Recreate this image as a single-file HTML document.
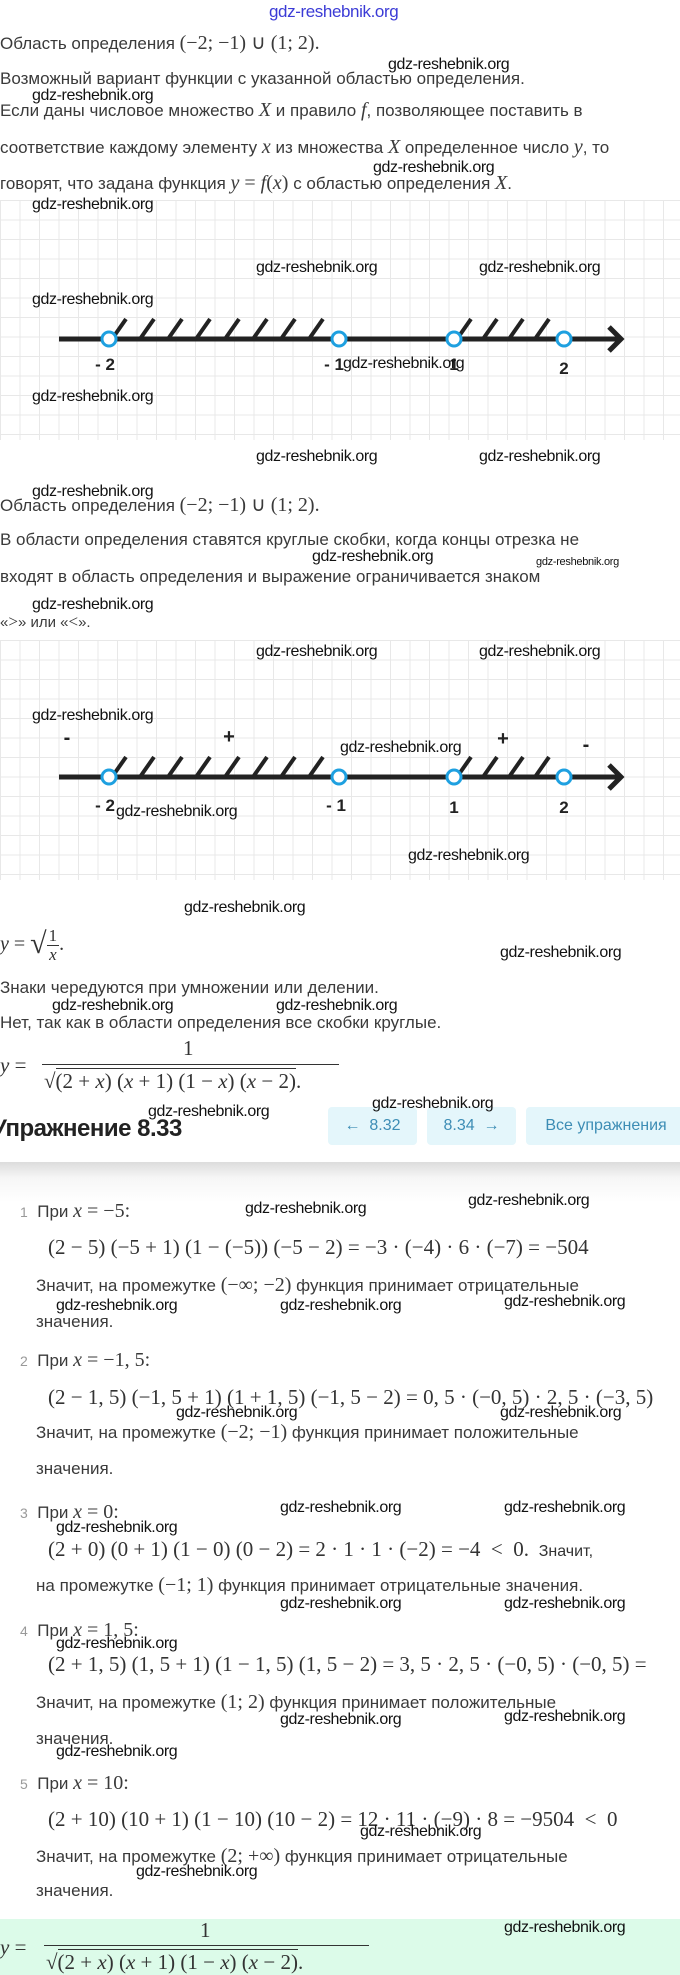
<!DOCTYPE html>
<html><head><meta charset="utf-8">
<style>
*{margin:0;padding:0;box-sizing:border-box}
body{width:680px;height:1975px;position:relative;overflow:hidden;background:#fff;font-family:"Liberation Sans",sans-serif;color:#333}
.t{position:absolute;white-space:nowrap;font-size:17px;line-height:20px;color:#3a3a3a}
.m{font-family:"Liberation Serif",serif;font-size:20px}
.m i{font-style:italic}
.eq{position:absolute;white-space:nowrap;font-family:"Liberation Serif",serif;font-size:21px;line-height:24px;color:#333}
.w{position:absolute;white-space:nowrap;font-size:16px;line-height:18px;color:#111;letter-spacing:-0.4px;z-index:5}
.n{color:#999;font-size:14px}
.grid{position:absolute;left:0;width:680px;background-color:#fff;
background-image:linear-gradient(#e8e8e8 1px,transparent 1px),linear-gradient(90deg,#e8e8e8 1px,transparent 1px);background-size:19.5px 19.5px}
.btn{position:absolute;top:1107px;height:38px;background:#e4f6fb;border-radius:4px;color:#3d8db5;font-size:16px;line-height:38px;text-align:center}
.fr{display:inline-block;vertical-align:middle;text-align:center}
.fr span{display:block}
</style></head><body>

<div class="w" style="left:269px;top:3px;color:#3b3bd6;font-size:17px">gdz-reshebnik.org</div>

<div class="t" style="left:0;top:33px">Область определения <span class="m">(−2; −1) ∪ (1; 2).</span></div>
<div class="w" style="left:388px;top:56px">gdz-reshebnik.org</div>
<div class="t" style="left:0;top:69px">Возможный вариант функции с указанной областью определения.</div>
<div class="w" style="left:32px;top:87px">gdz-reshebnik.org</div>
<div class="t" style="left:0;top:100px">Если даны числовое множество <span class="m"><i>X</i></span> и правило <span class="m"><i>f</i></span>, позволяющее поставить в</div>
<div class="t" style="left:0;top:137px">соответствие каждому элементу <span class="m"><i>x</i></span> из множества <span class="m"><i>X</i></span> определенное число <span class="m"><i>y</i></span>, то</div>
<div class="w" style="left:373px;top:159px">gdz-reshebnik.org</div>
<div class="t" style="left:0;top:173px">говорят, что задана функция <span class="m"><i>y</i> = <i>f</i>(<i>x</i>)</span> с областью определения <span class="m"><i>X</i></span>.</div>

<div class="grid" style="top:200px;height:240px"></div>
<svg style="position:absolute;left:0;top:300px" width="680" height="80">
<line x1="59" y1="39" x2="620" y2="39" stroke="#222" stroke-width="5"/>
<polyline points="609,27 621,39 609,51" fill="none" stroke="#222" stroke-width="5"/>
<g stroke="#222" stroke-width="4">
<line x1="112" y1="39" x2="126" y2="19"/><line x1="140" y1="39" x2="154" y2="19"/><line x1="168" y1="39" x2="182" y2="19"/><line x1="196" y1="39" x2="210" y2="19"/><line x1="225" y1="39" x2="239" y2="19"/><line x1="253" y1="39" x2="267" y2="19"/><line x1="281" y1="39" x2="295" y2="19"/><line x1="309" y1="39" x2="323" y2="19"/>
<line x1="457" y1="39" x2="471" y2="19"/><line x1="483" y1="39" x2="497" y2="19"/><line x1="509" y1="39" x2="523" y2="19"/><line x1="535" y1="39" x2="549" y2="19"/>
</g>
<g fill="#fff" stroke="#1ea0e0" stroke-width="3">
<circle cx="109" cy="39" r="7"/><circle cx="339" cy="39" r="7"/><circle cx="454" cy="39" r="7"/><circle cx="564" cy="39" r="7"/></g>
<g font-family="Liberation Sans" font-weight="bold" font-size="17" fill="#222" text-anchor="middle">
<text x="105" y="70">- 2</text><text x="334" y="70">- 1</text><text x="454" y="70">1</text><text x="564" y="74">2</text></g>
</svg>
<div class="w" style="left:32px;top:196px">gdz-reshebnik.org</div>
<div class="w" style="left:256px;top:259px">gdz-reshebnik.org</div>
<div class="w" style="left:479px;top:259px">gdz-reshebnik.org</div>
<div class="w" style="left:32px;top:291px">gdz-reshebnik.org</div>
<div class="w" style="left:343px;top:355px">gdz-reshebnik.org</div>
<div class="w" style="left:32px;top:388px">gdz-reshebnik.org</div>
<div class="w" style="left:256px;top:448px">gdz-reshebnik.org</div>
<div class="w" style="left:479px;top:448px">gdz-reshebnik.org</div>

<div class="w" style="left:32px;top:483px">gdz-reshebnik.org</div>
<div class="t" style="left:0;top:495px">Область определения <span class="m">(−2; −1) ∪ (1; 2).</span></div>
<div class="t" style="left:0;top:530px">В области определения ставятся круглые скобки, когда концы отрезка не</div>
<div class="w" style="left:312px;top:548px">gdz-reshebnik.org</div>
<div class="w" style="left:536px;top:553px;font-size:11px;letter-spacing:-0.3px">gdz-reshebnik.org</div>
<div class="t" style="left:0;top:567px">входят в область определения и выражение ограничивается знаком</div>
<div class="w" style="left:32px;top:596px">gdz-reshebnik.org</div>
<div class="t" style="left:0;top:612px;font-size:15px">«<span class="m" style="font-size:17px">&gt;</span>» или «<span class="m" style="font-size:17px">&lt;</span>».</div>

<div class="grid" style="top:640px;height:240px"></div>
<svg style="position:absolute;left:0;top:720px" width="680" height="100">
<g font-family="Liberation Sans" font-weight="bold" font-size="20" fill="#222" text-anchor="middle">
<text x="67" y="24">-</text><text x="229" y="23">+</text><text x="503" y="25">+</text><text x="586" y="31">-</text></g>
<line x1="59" y1="57" x2="620" y2="57" stroke="#222" stroke-width="5"/>
<polyline points="609,45 621,57 609,69" fill="none" stroke="#222" stroke-width="5"/>
<g stroke="#222" stroke-width="4">
<line x1="112" y1="57" x2="126" y2="37"/><line x1="140" y1="57" x2="154" y2="37"/><line x1="168" y1="57" x2="182" y2="37"/><line x1="196" y1="57" x2="210" y2="37"/><line x1="225" y1="57" x2="239" y2="37"/><line x1="253" y1="57" x2="267" y2="37"/><line x1="281" y1="57" x2="295" y2="37"/><line x1="309" y1="57" x2="323" y2="37"/>
<line x1="457" y1="57" x2="471" y2="37"/><line x1="483" y1="57" x2="497" y2="37"/><line x1="509" y1="57" x2="523" y2="37"/><line x1="535" y1="57" x2="549" y2="37"/>
</g>
<g fill="#fff" stroke="#1ea0e0" stroke-width="3">
<circle cx="109" cy="57" r="7"/><circle cx="339" cy="57" r="7"/><circle cx="454" cy="57" r="7"/><circle cx="564" cy="57" r="7"/></g>
<g font-family="Liberation Sans" font-weight="bold" font-size="17" fill="#222" text-anchor="middle">
<text x="105" y="91">- 2</text><text x="336" y="91">- 1</text><text x="454" y="93">1</text><text x="564" y="93">2</text></g>
</svg>
<div class="w" style="left:256px;top:643px">gdz-reshebnik.org</div>
<div class="w" style="left:479px;top:643px">gdz-reshebnik.org</div>
<div class="w" style="left:32px;top:707px">gdz-reshebnik.org</div>
<div class="w" style="left:340px;top:739px">gdz-reshebnik.org</div>
<div class="w" style="left:116px;top:803px">gdz-reshebnik.org</div>
<div class="w" style="left:408px;top:847px">gdz-reshebnik.org</div>
<div class="w" style="left:184px;top:899px">gdz-reshebnik.org</div>

<div class="eq" style="left:0;top:922px;font-size:20px;line-height:44px"><i>y</i> = <span style="font-size:30px;vertical-align:-3px">√</span><span class="fr" style="font-size:17px;line-height:18px;border:0"><span style="border-bottom:1px solid #333;padding:0 2px">1</span><span><i>x</i></span></span>.</div>
<div class="w" style="left:500px;top:944px">gdz-reshebnik.org</div>
<div class="t" style="left:0;top:978px">Знаки чередуются при умножении или делении.</div>
<div class="w" style="left:52px;top:997px">gdz-reshebnik.org</div>
<div class="w" style="left:276px;top:997px">gdz-reshebnik.org</div>
<div class="t" style="left:0;top:1013px">Нет, так как в области определения все скобки круглые.</div>

<div class="eq" style="left:0;top:1053px;line-height:24px"><i>y</i> =</div>
<div class="eq" style="left:183px;top:1036px;line-height:24px">1</div>
<div style="position:absolute;left:42px;top:1064px;width:297px;border-top:1px solid #333"></div>
<div class="eq" style="left:44px;top:1069px;line-height:24px">√<span style="border-top:1px solid #333">(2 + <i>x</i>) (<i>x</i> + 1) (1 − <i>x</i>) (<i>x</i> − 2)</span>.</div>
<div class="w" style="left:372px;top:1095px">gdz-reshebnik.org</div>

<div style="position:absolute;left:0;top:1162px;width:680px;height:40px;background:linear-gradient(#dcdcdc,#f6f6f6 40%,#fff)"></div>
<div class="t" style="left:-8px;top:1115px;font-size:24px;line-height:28px;color:#222;font-weight:bold;letter-spacing:-0.5px">Упражнение 8.33</div>
<div class="w" style="left:148px;top:1103px">gdz-reshebnik.org</div>
<div class="btn" style="left:328px;width:89px">←&nbsp; 8.32</div>
<div class="btn" style="left:427px;width:89px">8.34 &nbsp;→</div>
<div class="btn" style="left:526px;width:160px">Все упражнения</div>

<div class="t" style="left:20px;top:1201px"><span class="n">1</span>&nbsp; При <span class="m"><i>x</i> = −5:</span></div>
<div class="w" style="left:245px;top:1200px">gdz-reshebnik.org</div>
<div class="w" style="left:468px;top:1192px">gdz-reshebnik.org</div>
<div class="eq" style="left:48px;top:1235px">(2 − 5) (−5 + 1) (1 − (−5)) (−5 − 2) = −3 · (−4) · 6 · (−7) = −504</div>
<div class="t" style="left:36px;top:1275px">Значит, на промежутке <span class="m">(−∞; −2)</span> функция принимает отрицательные</div>
<div class="w" style="left:56px;top:1297px">gdz-reshebnik.org</div>
<div class="w" style="left:280px;top:1297px">gdz-reshebnik.org</div>
<div class="w" style="left:504px;top:1293px">gdz-reshebnik.org</div>
<div class="t" style="left:36px;top:1312px">значения.</div>

<div class="t" style="left:20px;top:1350px"><span class="n">2</span>&nbsp; При <span class="m"><i>x</i> = −1, 5:</span></div>
<div class="eq" style="left:48px;top:1385px">(2 − 1, 5) (−1, 5 + 1) (1 + 1, 5) (−1, 5 − 2) = 0, 5 · (−0, 5) · 2, 5 · (−3, 5)</div>
<div class="w" style="left:176px;top:1404px">gdz-reshebnik.org</div>
<div class="w" style="left:500px;top:1404px">gdz-reshebnik.org</div>
<div class="t" style="left:36px;top:1422px">Значит, на промежутке <span class="m">(−2; −1)</span> функция принимает положительные</div>
<div class="t" style="left:36px;top:1459px">значения.</div>

<div class="t" style="left:20px;top:1502px"><span class="n">3</span>&nbsp; При <span class="m"><i>x</i> = 0:</span></div>
<div class="w" style="left:280px;top:1499px">gdz-reshebnik.org</div>
<div class="w" style="left:504px;top:1499px">gdz-reshebnik.org</div>
<div class="w" style="left:56px;top:1519px">gdz-reshebnik.org</div>
<div class="eq" style="left:48px;top:1537px">(2 + 0) (0 + 1) (1 − 0) (0 − 2) = 2 · 1 · 1 · (−2) = −4 &nbsp;&lt;&nbsp; 0. <span style="font-family:'Liberation Sans';font-size:16px">&nbsp;Значит,</span></div>
<div class="t" style="left:36px;top:1575px">на промежутке <span class="m">(−1; 1)</span> функция принимает отрицательные значения.</div>
<div class="w" style="left:280px;top:1595px">gdz-reshebnik.org</div>
<div class="w" style="left:504px;top:1595px">gdz-reshebnik.org</div>

<div class="t" style="left:20px;top:1620px"><span class="n">4</span>&nbsp; При <span class="m"><i>x</i> = 1, 5:</span></div>
<div class="w" style="left:56px;top:1635px">gdz-reshebnik.org</div>
<div class="eq" style="left:48px;top:1652px">(2 + 1, 5) (1, 5 + 1) (1 − 1, 5) (1, 5 − 2) = 3, 5 · 2, 5 · (−0, 5) · (−0, 5) =</div>
<div class="t" style="left:36px;top:1692px">Значит, на промежутке <span class="m">(1; 2)</span> функция принимает положительные</div>
<div class="w" style="left:280px;top:1711px">gdz-reshebnik.org</div>
<div class="w" style="left:504px;top:1708px">gdz-reshebnik.org</div>
<div class="t" style="left:36px;top:1729px">значения.</div>
<div class="w" style="left:56px;top:1743px">gdz-reshebnik.org</div>

<div class="t" style="left:20px;top:1773px"><span class="n">5</span>&nbsp; При <span class="m"><i>x</i> = 10:</span></div>
<div class="eq" style="left:48px;top:1807px">(2 + 10) (10 + 1) (1 − 10) (10 − 2) = 12 · 11 · (−9) · 8 = −9504 &nbsp;&lt;&nbsp; 0</div>
<div class="w" style="left:360px;top:1823px">gdz-reshebnik.org</div>
<div class="t" style="left:36px;top:1846px">Значит, на промежутке <span class="m">(2; +∞)</span> функция принимает отрицательные</div>
<div class="w" style="left:136px;top:1863px">gdz-reshebnik.org</div>
<div class="t" style="left:36px;top:1881px">значения.</div>

<div style="position:absolute;left:0;top:1919px;width:680px;height:56px;background:#dcfbe9"></div>
<div class="eq" style="left:0;top:1935px"><i>y</i> =</div>
<div class="eq" style="left:200px;top:1918px">1</div>
<div style="position:absolute;left:44px;top:1945px;width:325px;border-top:1px solid #333"></div>
<div class="eq" style="left:46px;top:1950px">√<span style="border-top:1px solid #333">(2 + <i>x</i>) (<i>x</i> + 1) (1 − <i>x</i>) (<i>x</i> − 2)</span>.</div>
<div class="w" style="left:504px;top:1919px">gdz-reshebnik.org</div>
</body></html>
